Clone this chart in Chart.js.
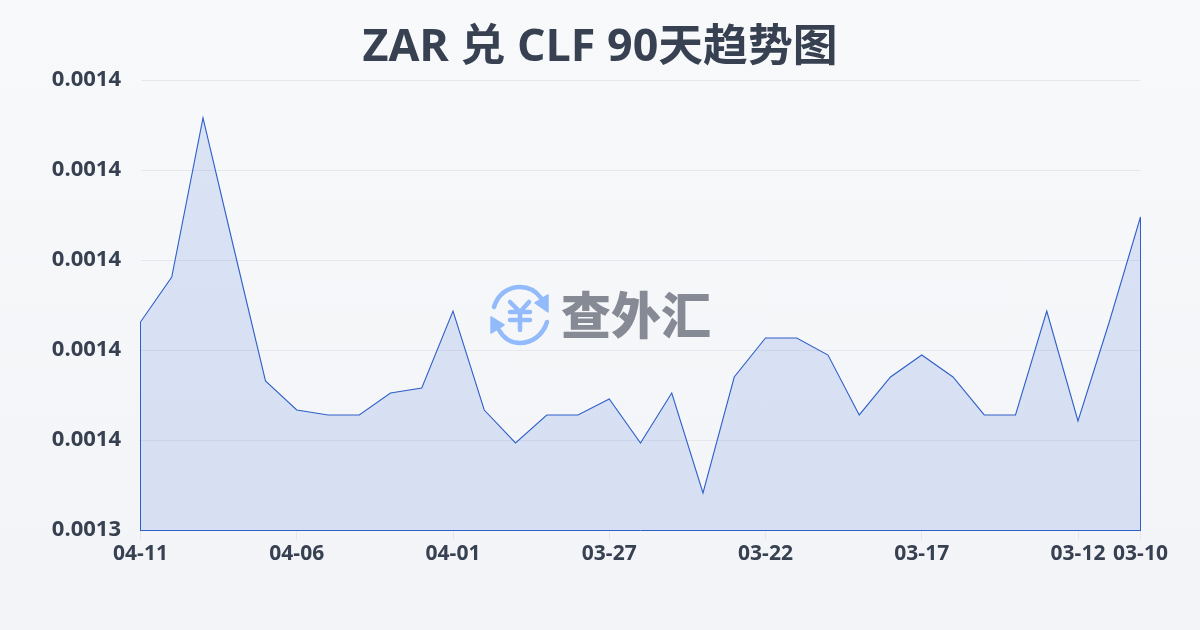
<!DOCTYPE html>
<html><head><meta charset="utf-8">
<style>
html,body{margin:0;padding:0;width:1200px;height:630px;overflow:hidden}
body{background:linear-gradient(180deg,#f8f9fb 0%,#f3f4f7 100%);position:relative;font-family:"Noto Sans CJK SC","Noto Sans",sans-serif}
#c{position:absolute;left:0;top:0}
#ttl{position:absolute;left:0;top:11px;width:1200px;text-align:center;font:700 44.8px/66px "Open Sans","Noto Sans CJK SC";color:#374151;white-space:pre}
#wm{position:absolute;left:480px;top:270px;width:250px;height:90px}
#wm svg{position:absolute;left:0;top:0}
#wm span{position:absolute;left:81px;top:12px;font:900 50px/60px "Noto Sans CJK SC";color:#868a94;white-space:nowrap}
</style></head><body>
<canvas id="c" width="1200" height="630"></canvas>
<div id="ttl"></div>
<div id="wm"><svg width="80" height="90" viewBox="0 0 80 90" fill="none" stroke="#93bbfb" stroke-linecap="round" stroke-linejoin="round">
<path d="M14 37C18 24 28 17 40 17c8 0 16 4 21 11" stroke-width="4.5"/><path d="M68 25 L68 42 L55 33Z" fill="#93bbfb" stroke-width="1.5"/>
<path d="M67 52C63 65 52 73 40 73c-8 0-16-4-21-13" stroke-width="4.5"/><path d="M11 47 L11 63 L24 55Z" fill="#93bbfb" stroke-width="1.5"/>
<path d="M30 32 L40 42 L49 32 M40 42 V60 M30 42 H50 M30 50 H50" stroke-width="4.5"/></svg><span>查外汇</span></div>
<script src="https://cdn.jsdelivr.net/npm/chart.js@4"></script>
<script>
const titleText = "ZAR 兑 CLF 90天趋势图";
const categories = ["04-11","04-10","04-09","04-08","04-07","04-06","04-05","04-04","04-03","04-02","04-01","03-31","03-30","03-29","03-28","03-27","03-26","03-25","03-24","03-23","03-22","03-21","03-20","03-19","03-18","03-17","03-16","03-15","03-14","03-13","03-12","03-11","03-10"];
const shownLabels = ["04-11","04-06","04-01","03-27","03-22","03-17","03-12","03-10"];
const rates = [0.00137311,0.00137811,0.00139578,0.00138111,0.00136656,0.00136333,0.00136278,0.00136278,0.00136522,0.00136578,0.00137433,0.00136333,0.00135967,0.00136278,0.00136278,0.00136456,0.00135967,0.00136522,0.00135411,0.001367,0.00137133,0.00137133,0.00136944,0.00136278,0.001367,0.00136944,0.001367,0.00136278,0.00136278,0.00137433,0.00136211,0.00137311,0.00138478];
const yMin = 0.001349999, yMax = 0.001399999, yStep = 0.00001;
const inkColor = "#374151", lineColor = "#2f5fc9";
document.getElementById("ttl").textContent = titleText;

const edgeLines = {id:"edgeLines",afterDatasetsDraw(ch){
  const {ctx,scales:{x,y}}=ch; ctx.save(); ctx.strokeStyle=lineColor; ctx.lineWidth=1;
  [0,rates.length-1].forEach(i=>{const px=Math.floor(x.getPixelForValue(i))+0.5;
    ctx.beginPath();ctx.moveTo(px,y.getPixelForValue(rates[i]));ctx.lineTo(px,y.getPixelForValue(yMin));ctx.stroke();});
  ctx.restore();}};

new Chart(document.getElementById("c"),{type:"line",
 data:{labels:categories,datasets:[{data:rates,borderColor:lineColor,borderWidth:1.1,tension:0,pointRadius:0,fill:"origin",
   backgroundColor:"rgba(57,105,215,.15)"}]},
 plugins:[edgeLines],
 options:{responsive:false,animation:false,devicePixelRatio:1,
  layout:{padding:{left:0,right:59.5,top:80,bottom:0}},
  plugins:{legend:{display:false},tooltip:{enabled:false},title:{display:false}},
  scales:{
   x:{offset:false,border:{color:lineColor,width:1},
      grid:{display:true,drawOnChartArea:false,drawTicks:true,tickLength:10,color:"#e5e7eb",lineWidth(c){return shownLabels.includes(categories[c.index])?1:0;}},
      afterFit(s){s.height=100;},
      ticks:{autoSkip:false,maxRotation:0,minRotation:0,padding:1,color:inkColor,font:{family:"'Open Sans'",size:21,weight:"700"},
        callback(v,i){const l=categories[i];return shownLabels.includes(l)?l:"";}}},
   y:{min:yMin,max:yMax,border:{display:false},
      grid:{color:"#e5e7eb",lineWidth:1,drawTicks:false},
      afterFit(s){s.width=140.5;},
      afterBuildTicks(s){const t=[];for(let i=0;i<=5;i++)t.push({value:yMin+i*yStep});s.ticks=t;},
      ticks:{padding:19.5,color:inkColor,font:{family:"'Open Sans'",size:22,weight:"700"},callback(v){return v.toFixed(4);}}}
  }}});
</script></body></html>
